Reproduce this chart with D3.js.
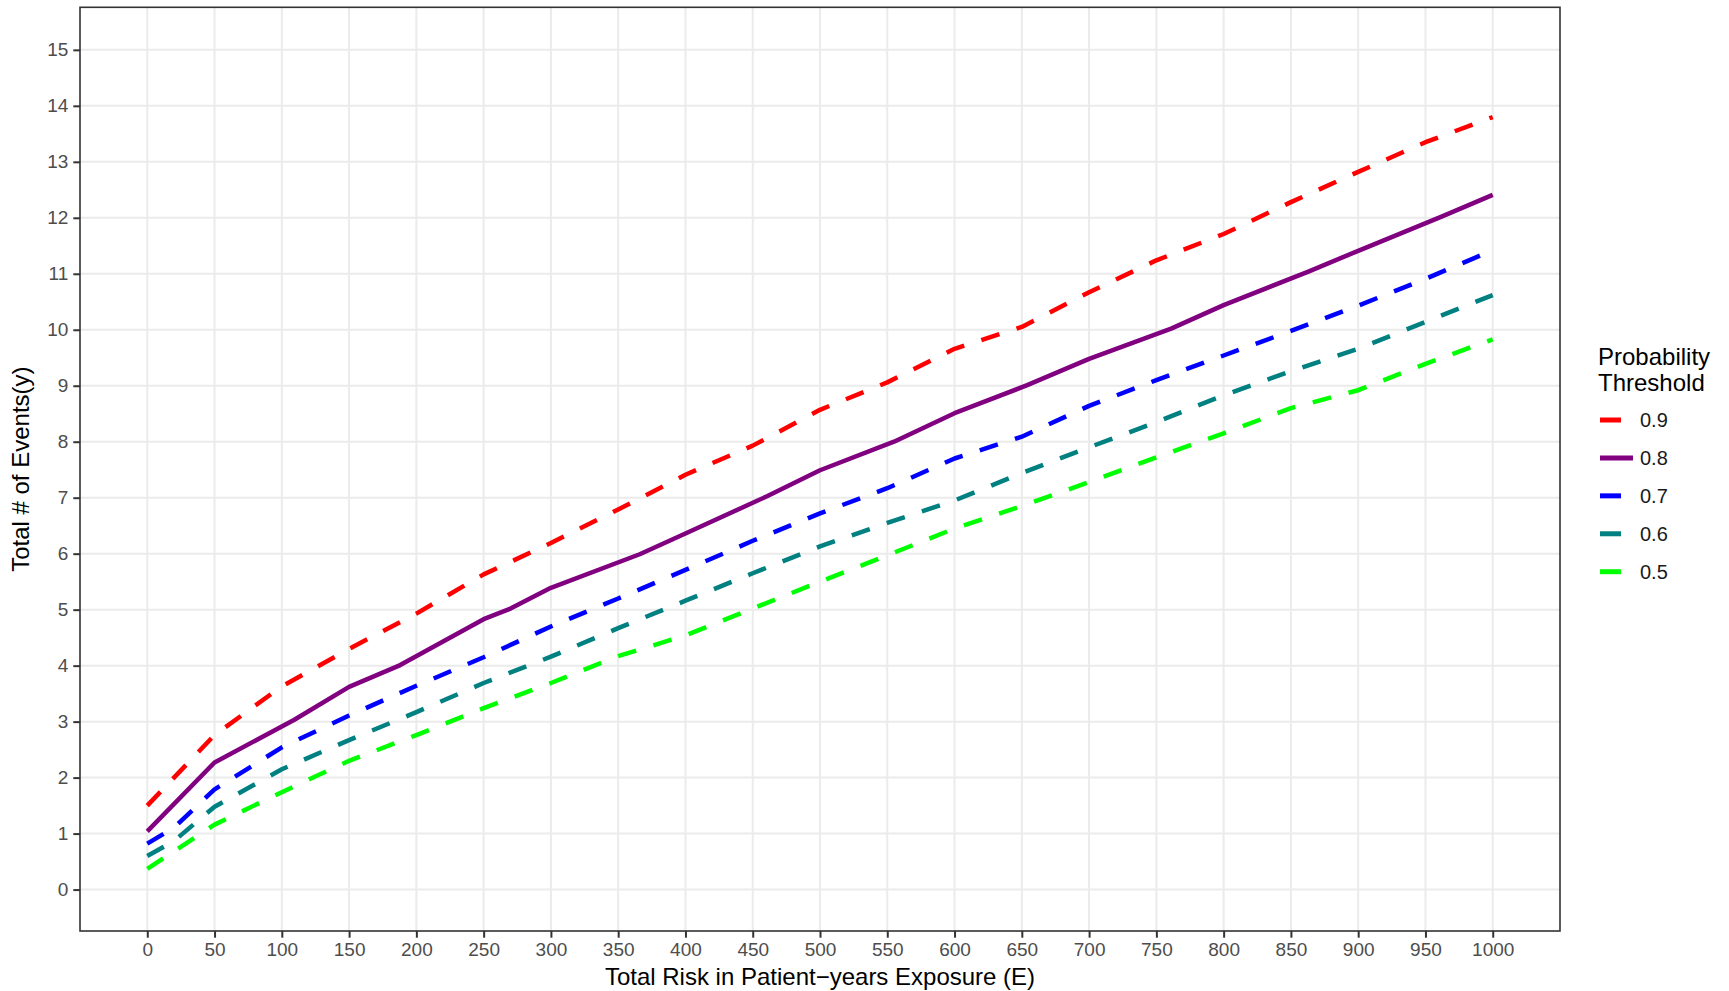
<!DOCTYPE html>
<html>
<head>
<meta charset="utf-8">
<script src="https://cdn.jsdelivr.net/npm/d3@7"></script>
<style>
  html, body { margin: 0; padding: 0; background: #ffffff; }
  svg { display: block; font-family: "Liberation Sans", Arial, sans-serif; }
</style>
</head>
<body>
<svg id="chart" width="1729" height="991"></svg>
<script>
// Total events needed by exposure, one line per probability threshold
const thresholds = ["0.9", "0.8", "0.7", "0.6", "0.5"];
const colors = ["#ff0000", "#800080", "#0000ff", "#008080", "#00ff00"];
const dashed = [true, false, true, true, true];

const exposure09 = [0, 50, 100, 150, 200, 250, 300, 350, 400, 450, 500, 550, 600, 650, 700, 750, 800, 850, 900, 950, 1000];
const events09 = [1.50, 2.76, 3.63, 4.30, 4.93, 5.63, 6.19, 6.79, 7.41, 7.93, 8.57, 9.06, 9.66, 10.05, 10.67, 11.24, 11.71, 12.28, 12.82, 13.35, 13.80];

const exposure08 = [0, 50, 109, 150, 188, 250, 270, 300, 366, 400, 461, 500, 555, 600, 654, 700, 761, 800, 863, 900, 962, 1000];
const events08 = [1.04, 2.27, 3.03, 3.62, 4.01, 4.83, 5.02, 5.39, 5.99, 6.36, 7.03, 7.49, 8.00, 8.51, 9.01, 9.48, 10.02, 10.44, 11.04, 11.41, 12.02, 12.41];

const exposure07 = [0, 20, 50, 100, 150, 200, 250, 300, 350, 400, 450, 500, 550, 600, 650, 700, 750, 800, 850, 900, 950, 1000];
const events07 = [0.82, 1.11, 1.79, 2.54, 3.11, 3.64, 4.15, 4.70, 5.20, 5.71, 6.23, 6.72, 7.17, 7.70, 8.09, 8.64, 9.10, 9.54, 9.98, 10.43, 10.91, 11.42];

const exposure06 = [0, 20, 50, 100, 150, 200, 250, 300, 350, 400, 450, 500, 550, 600, 650, 700, 750, 800, 850, 900, 950, 1000];
const events06 = [0.60, 0.87, 1.48, 2.15, 2.67, 3.17, 3.69, 4.16, 4.67, 5.16, 5.65, 6.13, 6.55, 6.95, 7.44, 7.90, 8.35, 8.83, 9.26, 9.66, 10.14, 10.62];

const exposure05 = [0, 50, 100, 150, 200, 250, 300, 350, 400, 450, 500, 550, 600, 650, 700, 750, 800, 850, 900, 950, 1000];
const events05 = [0.37, 1.16, 1.74, 2.30, 2.76, 3.24, 3.69, 4.17, 4.54, 5.02, 5.50, 5.97, 6.45, 6.85, 7.28, 7.72, 8.15, 8.60, 8.92, 9.39, 9.83];

const xTicks = d3.range(0, 1001, 50);
const yTicks = d3.range(0, 16, 1);

const exposures = [exposure09, exposure08, exposure07, exposure06, exposure05];
const events = [events09, events08, events07, events06, events05];

const svg = d3.select("#chart");
const panel = { left: 80, right: 1560, top: 7.3, bottom: 931 };

const x = d3.scaleLinear().domain([-50, 1050]).range([panel.left, panel.right]);
const y = d3.scaleLinear().domain([-0.74, 15.76]).range([panel.bottom, panel.top]);

// panel background
svg.append("rect")
  .attr("x", panel.left).attr("y", panel.top)
  .attr("width", panel.right - panel.left).attr("height", panel.bottom - panel.top)
  .attr("fill", "#ffffff");

// grid
const grid = svg.append("g").attr("stroke", "#ebebeb").attr("stroke-width", 2);
grid.selectAll("line.gx").data(xTicks).join("line")
  .attr("x1", d => x(d)).attr("x2", d => x(d))
  .attr("y1", panel.top).attr("y2", panel.bottom);
grid.selectAll("line.gy").data(yTicks).join("line")
  .attr("x1", panel.left).attr("x2", panel.right)
  .attr("y1", d => y(d)).attr("y2", d => y(d));

// series lines
const line = d3.line().x(d => x(d[0])).y(d => y(d[1]));
const dashPattern = "19,18";
thresholds.forEach((t, i) => {
  const pts = exposures[i].map((e, j) => [e, events[i][j]]);
  svg.append("path")
    .datum(pts)
    .attr("d", line)
    .attr("fill", "none")
    .attr("stroke", colors[i])
    .attr("stroke-width", 4.5)
    .attr("stroke-linejoin", "round")
    .attr("stroke-linecap", "butt")
    .attr("stroke-dasharray", dashed[i] ? dashPattern : null);
});

// panel border
svg.append("rect")
  .attr("x", panel.left).attr("y", panel.top)
  .attr("width", panel.right - panel.left).attr("height", panel.bottom - panel.top)
  .attr("fill", "none").attr("stroke", "#333333").attr("stroke-width", 1.6);

// axes
const styleAxis = g => {
  g.select(".domain").remove();
  g.selectAll(".tick line").attr("stroke", "#333333").attr("stroke-width", 2);
  g.selectAll(".tick text").attr("fill", "#4d4d4d").style("font-size", "19px");
};
svg.append("g")
  .attr("transform", `translate(0,${panel.bottom})`)
  .call(d3.axisBottom(x).tickValues(xTicks).tickSize(6.7).tickPadding(5).tickFormat(d3.format("d")))
  .call(styleAxis);
svg.append("g")
  .attr("transform", `translate(${panel.left},0)`)
  .call(d3.axisLeft(y).tickValues(yTicks).tickSize(6.7).tickPadding(5).tickFormat(d3.format("d")))
  .call(styleAxis);

// axis titles
svg.append("text")
  .attr("x", (panel.left + panel.right) / 2).attr("y", 985)
  .attr("text-anchor", "middle").attr("fill", "#000000")
  .style("font-size", "24px")
  .text("Total Risk in Patient\u2212years Exposure (E)");
svg.append("text")
  .attr("transform", `translate(29,${(panel.top + panel.bottom) / 2}) rotate(-90)`)
  .attr("text-anchor", "middle").attr("fill", "#000000")
  .style("font-size", "24px")
  .text("Total # of Events(y)");

// legend
const legend = svg.append("g");
legend.append("text").attr("x", 1598).attr("y", 365)
  .attr("fill", "#000000").style("font-size", "24px").text("Probability");
legend.append("text").attr("x", 1598).attr("y", 391)
  .attr("fill", "#000000").style("font-size", "24px").text("Threshold");
const keyY = d3.scaleLinear().domain([0, 4]).range([420, 571.7]);
thresholds.forEach((t, i) => {
  legend.append("line")
    .attr("x1", 1600).attr("x2", 1633)
    .attr("y1", keyY(i)).attr("y2", keyY(i))
    .attr("stroke", colors[i]).attr("stroke-width", 5)
    .attr("stroke-dasharray", dashed[i] ? "21,18" : null);
  legend.append("text")
    .attr("x", 1640).attr("y", keyY(i)).attr("dy", "0.36em")
    .attr("fill", "#1a1a1a").style("font-size", "20px").text(t);
});
</script>
</body>
</html>
